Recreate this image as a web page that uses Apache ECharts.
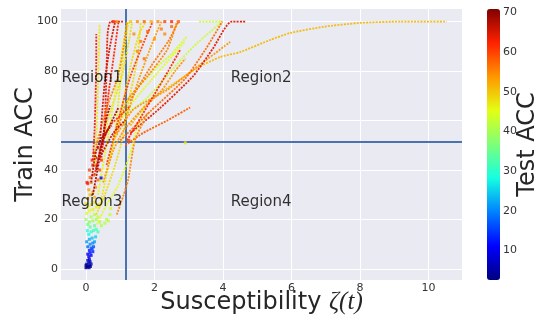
<!DOCTYPE html>
<html><head><meta charset="utf-8">
<script src="https://cdn.jsdelivr.net/npm/echarts@6/dist/echarts.min.js"></script>
<style>html,body{margin:0;padding:0;background:#fff}#c{width:537px;height:320px}</style>
</head><body><div id="c"></div>
<script>
// ---------- data ----------
const xTicks = [0, 2, 4, 6, 8, 10];
const yTicks = [0, 20, 40, 60, 80, 100];
const cbarTicks = [10, 20, 30, 40, 50, 60, 70];
const xRange = [-0.73, 10.98];
const yRange = [-4.45, 105.1];
const accRange = [2.6, 70.8];
const thresholdX = 1.16;
const thresholdY = 51.6;
const regionNames = ['Region1', 'Region2', 'Region3', 'Region4'];
const regionX = [-0.73, 4.21, -0.73, 4.21];
const regionY = [77.2, 77.2, 27.2, 27.2];

// test accuracy of each trajectory
const pathAcc = [51, 43, 64, 57, 54, 58, 44, 45, 55, 63, 47, 64, 62, 65, 55, 48, 68, 68, 66, 45, 48, 47, 55, 62, 56, 53, 48, 60, 54, 46, 67, 61];
// trajectories (susceptibility, train acc)
const pathPoints = [
  [[1.3,58],[1.87,68.3],[2.6,75.2],[3.25,81.3],[3.92,85.7],[4.5,87.7],[5.38,92.6],[5.96,95.4],[6.93,97.9],[8.01,99.5],[9.18,100],[10.53,100]],
  [[1.2,63],[1.7,68],[2.3,77],[2.8,85],[3.3,92],[3.98,100],[3.27,100]],
  [[1.3,55],[2.16,65],[3.13,78],[3.7,89],[4.25,100],[4.65,100]],
  [[1.0,52],[1.9,64],[2.9,77],[3.5,89],[3.98,100]],
  [[0.8,52],[1.37,64.3],[2.37,72.4],[3.13,80.5],[4.21,91.8]],
  [[1.15,50],[1.67,55],[2.37,60],[3.04,65.3]],
  [[1.0,63],[1.29,69.6],[2.08,81.7],[2.5,87],[2.95,94]],
  [[1.0,60],[1.4,68],[2.1,79.5],[2.9,92]],
  [[0.9,55],[1.2,68],[1.8,78],[2.37,88.6],[2.66,100]],
  [[0.2,44],[0.25,56],[0.28,70],[0.3,85],[0.3,95]],
  [[0.25,42],[0.32,60],[0.36,80],[0.4,99]],
  [[0.45,45],[0.55,60],[0.6,80],[0.63,95],[0.72,100],[1.1,100]],
  [[0.5,50],[0.65,70],[0.8,85],[0.95,100]],
  [[0.4,50],[0.55,76],[0.7,90],[0.85,100]],
  [[0.3,50],[0.6,65],[0.94,78],[1.1,90],[1.2,100]],
  [[0.5,52],[0.65,61],[1.05,78],[1.25,92],[1.35,100]],
  [[0.3,40],[0.47,51],[0.94,65]],
  [[0.2,30],[0.4,45],[0.55,58],[0.7,66]],
  [[0.4,45],[0.8,55],[1.15,60.3]],
  [[0.32,18],[0.6,26],[0.91,33],[1.23,44],[1.45,55],[1.7,66]],
  [[0.3,22],[0.55,30],[0.85,42],[1.05,52],[1.25,68],[1.5,85],[1.6,100]],
  [[0.4,25],[0.6,38],[0.85,55],[1.0,75],[1.15,92],[1.25,100]],
  [[0.9,22],[1.1,30],[1.23,36],[1.43,52],[1.8,63]],
  [[1.2,52],[1.8,66],[2.4,80],[2.75,88.6]],
  [[1.29,68],[1.9,82],[2.4,92],[2.7,100]],
  [[1.1,58],[1.5,75],[1.9,90],[2.2,100]],
  [[0.7,45],[1.0,62],[1.3,82],[1.55,95],[1.75,100]],
  [[0.6,42],[0.9,58],[1.3,78],[1.7,92],[1.95,100]],
  [[0.5,35],[0.8,48],[1.1,56],[1.6,64],[2.2,72],[2.6,80],[2.9,85]],
  [[0.35,30],[0.6,50],[0.9,75],[1.1,92],[1.2,100]],
  [[0.15,35],[0.3,48],[0.5,54],[0.75,58]],
  [[0.25,38],[0.45,50],[0.7,58],[1.0,62],[1.3,66]]
];
// early-training cluster near the origin: [susceptibility, train acc, test acc]
const clusterPoints = [
  [0.0,0.5,3],[0.05,1,4],[0.1,1.5,5],[0.02,2,5],[0.08,2.5,6],[0.12,3,7],[0.05,3.5,7],[0.15,2,6],[0.1,4,8],[0.0,1.5,3],[0.13,1,4],[0.03,0.8,3],[0.09,0.5,4],
  [0.08,5,10],[0.15,5.5,11],[0.12,6.5,12],[0.2,7,13],[0.05,6,11],[0.18,8,15],[0.22,9,16],[0.1,7.5,13],
  [0.05,9,18],[0.12,10,20],[0.2,10.5,20],[0.25,11,22],[0.1,12,23],[0.18,12.5,24],[0.28,13,25],[0.02,11,21],[0.15,8.5,17],
  [0.08,14,28],[0.15,15,30],[0.22,15.5,31],[0.3,16,33],[0.12,17,34],[0.25,17.5,35],[0.35,15,32],[0.04,15.5,30],
  [0.05,18,36],[0.1,19,38],[0.2,19.5,39],[0.3,20,40],[0.15,21,41],[0.35,21,42],[0.4,19,40],[0.0,20,39],[0.25,22,42],
  [0.45,17.5,41],[0.55,18.5,42],[0.65,19.5,42],[0.7,22,43],[0.72,24.5,44],[0.6,20,42],
  [0.02,22.5,44],[0.1,23.5,45],[0.2,24,46],[0.05,25,46],[0.15,26,47],[0.3,25,46],[0.25,27,48],[0.0,26.5,47],[0.35,26,47],
  [0.05,28.5,50],[0.12,30,51],[0.2,31,52],[0.08,32,53],[0.28,33,54],[0.15,35,56],[0.35,36,57],[0.05,34.5,62],[0.25,29,51],
  [0.22,38,58],[0.4,40,59],[0.3,42,60],[0.1,40,60],[0.45,44,61],[0.18,44,62],[0.25,47,64],[0.35,49,66],[0.12,37,57],[0.2,42,63],[0.28,45,65]
];
// scattered single points
const looseDots = [
  [0.8,100,62],[0.9,100,55],[1.3,100,50],[1.5,100,55],[1.7,100,58],[1.9,100,52],[2.1,100,55],[2.3,100,60],[2.5,100,62],[2.7,100,58],
  [1.4,95,55],[1.6,92,56],[1.8,96,58],[2.0,93,54],[2.2,97,56],[1.5,88,55],[1.7,85,57],[2.3,95,55],[2.5,98,57],
  [2.9,51,47],[0.44,36.8,8],[0.03,35,63],[1.25,52,60]
];

// ---------- colours ----------
const jetStops = ['#000080','#0000ff','#0080ff','#14ffe2','#7dff7a','#e3ff14','#ff9700','#ff2100','#800000'];
function hex(h){ return [parseInt(h.slice(1,3),16), parseInt(h.slice(3,5),16), parseInt(h.slice(5,7),16)]; }
function jet(v){
  let t = (v - accRange[0]) / (accRange[1] - accRange[0]);
  t = Math.max(0, Math.min(1, t));
  const p = t * (jetStops.length - 1);
  const i = Math.min(Math.floor(p), jetStops.length - 2);
  const f = p - i;
  const a = hex(jetStops[i]), b = hex(jetStops[i + 1]);
  return 'rgb(' + a.map((c, k) => Math.round(c + (b[k] - c) * f)).join(',') + ')';
}

const FONT = 'DejaVu Sans';
const tickColor = '#333';

const series = [];
series.push({
  type: 'scatter', name: 'cluster', xAxisIndex: 0, yAxisIndex: 0,
  data: clusterPoints, symbolSize: 3, symbol: 'rect', z: 2
});
pathPoints.forEach((pts, k) => {
  series.push({
    type: 'line', xAxisIndex: 0, yAxisIndex: 0,
    data: pts, showSymbol: false, smooth: 0.2,
    lineStyle: { color: jet(pathAcc[k]), width: 1.8, opacity: 0.95, type: [2, 1.2] },
    z: 3 + Math.round(pathAcc[k] / 10), silent: true, animation: false
  });
});
series.push({
  type: 'scatter', name: 'dots', xAxisIndex: 0, yAxisIndex: 0,
  data: looseDots, symbolSize: 3, symbol: 'rect', z: 10
});
series.push({
  type: 'line', xAxisIndex: 0, yAxisIndex: 0, data: [], z: 20,
  markLine: {
    silent: true, symbol: 'none', animation: false,
    lineStyle: { color: '#4c72b0', width: 2, type: 'solid' },
    label: { show: false },
    data: [{ xAxis: thresholdX }, { yAxis: thresholdY }]
  }
});
series.push({
  type: 'scatter', xAxisIndex: 0, yAxisIndex: 0, z: 30,
  data: regionNames.map((n, i) => ({ name: n, value: [regionX[i], regionY[i]] })),
  symbolSize: 1, itemStyle: { color: 'rgba(0,0,0,0)' },
  label: { show: true, position: 'right', distance: 0, formatter: '{b}', color: '#000', fontSize: 15, fontFamily: FONT }
});

const chart = echarts.init(document.getElementById('c'), null, { renderer: 'canvas' });
chart.setOption({
  animation: false,
  backgroundColor: '#fff',
  grid: [
    { left: 61, top: 9, width: 401, height: 271, backgroundColor: '#eaeaf2', show: true, borderWidth: 0, outerBoundsMode: 'none', containLabel: false },
    { left: 487, top: 9, width: 13, height: 271, show: false, outerBoundsMode: 'none', containLabel: false }
  ],
  xAxis: [
    {
      type: 'value', gridIndex: 0, min: xRange[0], max: xRange[1],
      axisLine: { show: false }, axisTick: { show: false, customValues: xTicks },
      axisLabel: { customValues: xTicks, color: tickColor, fontSize: 11, fontFamily: FONT, margin: 3 },
      splitLine: { show: true, lineStyle: { color: '#fff', width: 1 } },
      name: '{a|Susceptibility }{b|ζ(t)}', nameLocation: 'middle', nameGap: 10, nameMoveOverlap: false,
      nameTextStyle: { verticalAlign: 'top', rich: {
        a: { fontFamily: FONT, fontSize: 24, color: '#262626' },
        b: { fontFamily: 'Liberation Serif', fontStyle: 'italic', fontSize: 25, color: '#262626' } } }
    },
    { type: 'value', gridIndex: 1, show: false, min: 0, max: 1 }
  ],
  yAxis: [
    {
      type: 'value', gridIndex: 0, min: yRange[0], max: yRange[1],
      axisLine: { show: false }, axisTick: { show: false, customValues: yTicks },
      axisLabel: { customValues: yTicks, color: tickColor, fontSize: 11, fontFamily: FONT, margin: 3 },
      splitLine: { show: true, lineStyle: { color: '#fff', width: 1 } },
      name: 'Train ACC', nameLocation: 'middle', nameGap: 23, nameRotate: 90, nameMoveOverlap: false,
      nameTextStyle: { fontFamily: FONT, fontSize: 24, color: '#262626' }
    },
    {
      type: 'value', gridIndex: 1, position: 'right', min: accRange[0], max: accRange[1],
      axisLine: { show: false },
      axisTick: { show: true, inside: false, length: 3, customValues: cbarTicks, lineStyle: { color: '#333' } },
      axisLabel: { customValues: cbarTicks, color: tickColor, fontSize: 11, fontFamily: FONT, margin: 3 },
      splitLine: { show: false },
      name: 'Test ACC', nameLocation: 'middle', nameGap: 16, nameRotate: 90, nameMoveOverlap: false,
      nameTextStyle: { fontFamily: FONT, fontSize: 24, color: '#262626' }
    }
  ],
  visualMap: [{
    type: 'continuous', min: accRange[0], max: accRange[1], dimension: 2,
    seriesIndex: [0, pathPoints.length + 1],
    inRange: { color: jetStops },
    left: 487, top: 9, itemWidth: 13, itemHeight: 271, padding: 0,
    calculable: false, hoverLink: false, text: null, orient: 'vertical'
  }],
  series: series
});
</script></body></html>
